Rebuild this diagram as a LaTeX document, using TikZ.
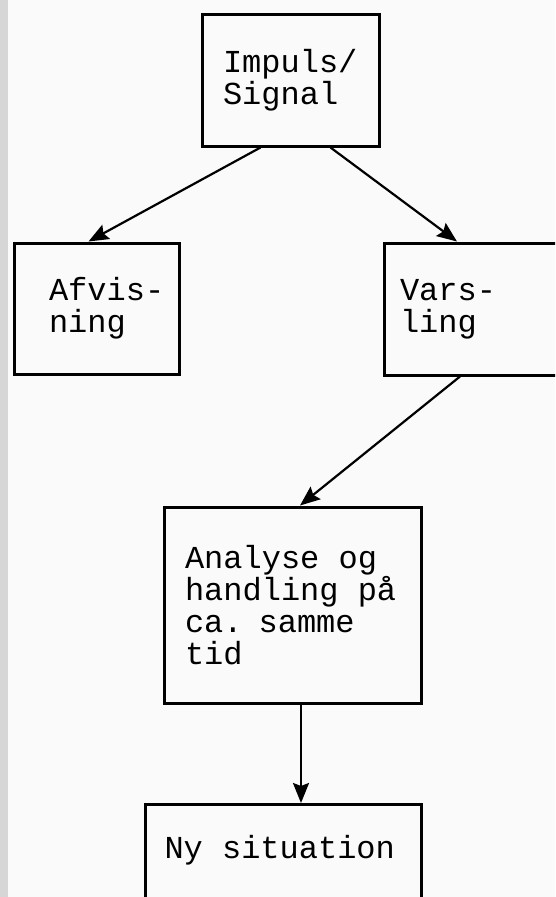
\documentclass[tikz,border=0pt]{standalone}
\usepackage{fontspec}
\setmonofont{Liberation Mono}
\usetikzlibrary{arrows.meta}

\begin{document}
\begin{tikzpicture}[x=1pt,y=-1pt,>={Stealth[length=20pt,width=16pt,inset=3pt]}]
	\tikzstyle{box}=[draw,rectangle,line width=3pt,align=left,inner ysep=0pt,
		font=\ttfamily\fontsize{32}{32}\selectfont,
		execute at begin node={\spaceskip=19.2pt\relax}]
	\tikzstyle{link}=[line width=2.2pt]

	% paper
	\useasboundingbox (0,0) rectangle (555,897);
	\clip (0,0) rectangle (555,897);
	\fill[black!2] (0,0) rectangle (555,897);
	\fill[black!16] (0,0) rectangle (8,897);

	\node[box,minimum width=177pt,minimum height=132pt,inner xsep=21pt,text width=135pt](imp) at (290.5,80){Impuls/\\Signal};

	\node[box,minimum width=165pt,minimum height=131pt,inner xsep=35pt,text width=95pt](afv) at (96.5,308.5){Afvis-\\ning};
	\node[box,minimum width=200pt,minimum height=132pt,inner xsep=16pt,text width=168pt](vars) at (484,309){Vars-\\ling};

	\node[box,minimum width=257pt,minimum height=196pt,inner xsep=21pt,text width=215pt](ana) at (292.5,605){Analyse og\\handling på\\ca. samme\\tid};

	\node[box,anchor=north west,inner xsep=19pt,inner ysep=32pt,text width=238pt,
		text height=22pt,text depth=60pt](ny) at (144,803){Ny situation};

	\draw[link,->] ([xshift=-30pt]imp.south) -- ([xshift=-8pt]afv.north);
	\draw[link,->] ([xshift=40pt]imp.south) -- ([xshift=-27pt]vars.north);

	\draw[link,->] ([xshift=-24pt]vars.south) -- ([xshift=7.5pt]ana.north);

	\draw[link,->] ([xshift=8.5pt]ana.south) -- ([xshift=17.5pt]ny.north);

\end{tikzpicture}
\end{document}
